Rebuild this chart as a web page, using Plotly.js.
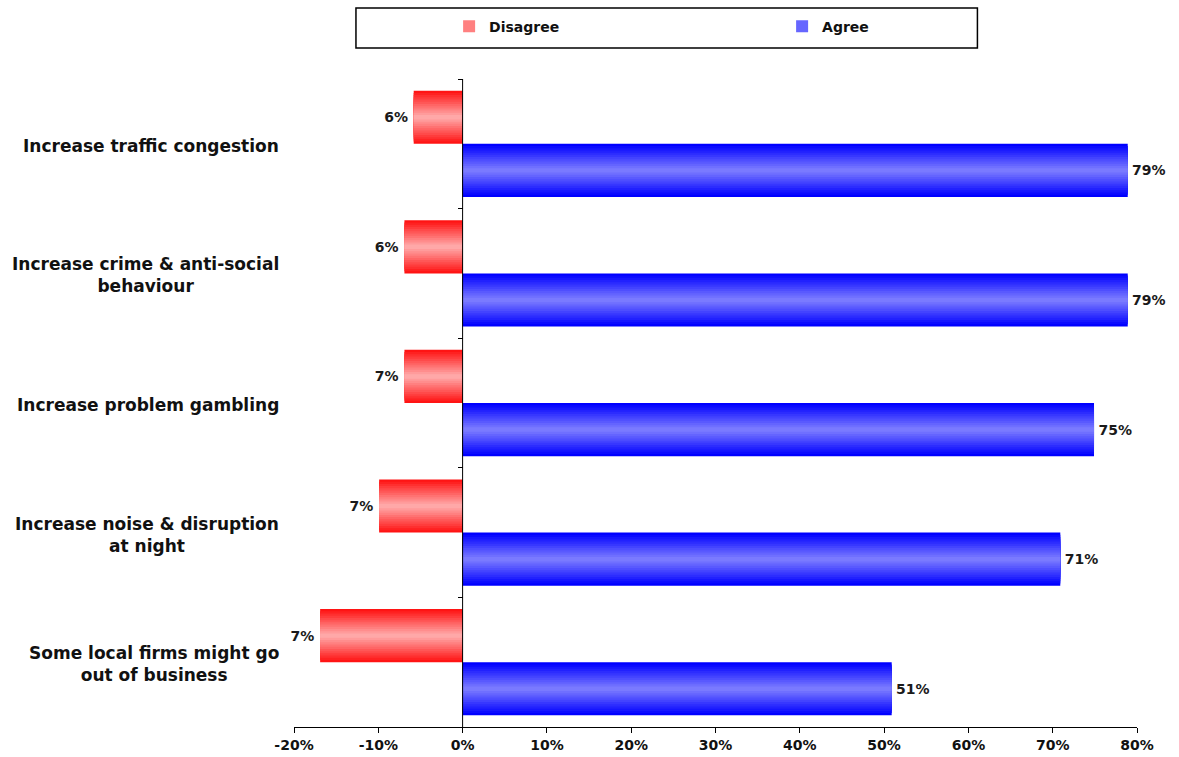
<!DOCTYPE html>
<html>
<head>
<meta charset="utf-8">
<script src="https://cdn.plot.ly/plotly-3.0.1.min.js"></script>
<style>html,body{margin:0;padding:0;background:#fff;}#chart{width:1179px;height:757px;}</style>
</head>
<body>
<div id="chart"></div>
<script>
// ---- data ----
const categories = [
  "Increase traffic congestion",
  "Increase crime & anti-social<br>behaviour",
  "Increase problem gambling",
  "Increase noise & disruption<br>at night",
  "Some local firms might go<br>out of business"
];
const disagreeValues = [-5.8, -6.9, -6.9, -9.9, -16.9];
const disagreeLabels = ["6%", "6%", "7%", "7%", "7%"];
const agreeValues = [78.9, 78.9, 74.9, 70.9, 50.9];
const agreeLabels = ["79%", "79%", "75%", "71%", "51%"];
const xTickValues = [-20, -10, 0, 10, 20, 30, 40, 50, 60, 70, 80];
const xTickText = xTickValues.map(v => v + "%");

// ---- styling ----
const FONT = "DejaVu Sans, Verdana, sans-serif";
const N = 12;               // gradient layers
const BARW = 0.41;          // bar thickness in category units
function lerp(a, b, t) { return Math.round(a + (b - a) * t); }
function col(e, c, t) { return `rgb(${lerp(e[0], c[0], t)},${lerp(e[1], c[1], t)},${lerp(e[2], c[2], t)})`; }
const redEdge = [255, 20, 20], redCenter = [255, 168, 168];
const blueEdge = [0, 0, 255], blueCenter = [122, 122, 255];

const traces = [];
function addSeries(name, values, labels, edge, center, centerOffset, legendColor, tmpl) {
  for (let k = 0; k < N; k++) {
    const f = 1 - k / N;
    const w = BARW * f;
    const t = k / (N - 1);
    traces.push({
      type: "bar",
      orientation: "h",
      name: name,
      x: values,
      y: categories,
      width: w,
      offset: centerOffset - w / 2,
      marker: { color: col(edge, center, t), line: { width: 0 } },
      text: k === 0 ? labels : undefined,
      texttemplate: k === 0 ? tmpl : undefined,
      textposition: k === 0 ? "outside" : "none",
      textfont: { family: FONT, size: 14, color: "#1a1a1a", weight: "bold" },
      constraintext: "none",
      cliponaxis: false,
      showlegend: false,
      hoverinfo: "skip",
      legendgroup: name
    });
  }
  // legend-only entry
  traces.push({
    type: "bar", orientation: "h", name: name,
    x: [null], y: [categories[0]],
    marker: { color: legendColor },
    showlegend: true, legendgroup: name, hoverinfo: "skip"
  });
}
addSeries("Disagree", disagreeValues, disagreeLabels, redEdge, redCenter, -BARW / 2, "#ff8080", "%{text}\u2009");
addSeries("Agree", agreeValues, agreeLabels, blueEdge, blueCenter, BARW / 2, "#6666ff", "\u200a%{text}");

const annotations = categories.map(c => ({
  xref: "paper", yref: "y", x: -0.015, y: c,
  text: "<b>" + c + "</b>", showarrow: false,
  xanchor: "right", yanchor: "middle", align: "center", yshift: -2,
  font: { family: FONT, size: 17, color: "#111" }
}));

const layout = {
  width: 1179, height: 757,
  margin: { l: 294, r: 42, t: 78, b: 30 },
  paper_bgcolor: "#fff", plot_bgcolor: "#fff",
  barmode: "overlay",
  showlegend: true,
  legend: {
    orientation: "h", x: 0.184, xanchor: "left", y: 1.079, yanchor: "middle",
    font: { family: FONT, size: 14, color: "#111", weight: "bold" },
    bgcolor: "rgba(0,0,0,0)", borderwidth: 0,
    entrywidth: 288, entrywidthmode: "pixels", traceorder: "normal"
  },
  xaxis: {
    range: [-20, 80], tickmode: "array", tickvals: xTickValues, ticktext: xTickText,
    showgrid: false, zeroline: false,
    showline: true, linecolor: "#000", linewidth: 1,
    ticks: "outside", ticklen: 5, tickcolor: "#000",
    tickfont: { family: FONT, size: 14, color: "#111", weight: "bold" },
    fixedrange: true
  },
  yaxis: {
    type: "category", categoryarray: categories, categoryorder: "array",
    range: [4.5, -0.5],
    anchor: "free", position: 0.2,
    showgrid: false, zeroline: false,
    showline: false,
    ticks: "outside", ticklen: 5, tickcolor: "#000", tickson: "boundaries",
    showticklabels: false, fixedrange: true
  },
  shapes: [
    {
      type: "rect", xref: "paper", yref: "paper",
      x0: 0.0735, x1: 0.8107, y0: 1.0478, y1: 1.1094,
      line: { color: "#000", width: 1.5 }, fillcolor: "rgba(0,0,0,0)"
    },
    {
      type: "line", xref: "x", yref: "paper", x0: 0, x1: 0, y0: 0, y1: 1,
      line: { color: "#000", width: 1 }, layer: "above"
    }
  ],
  annotations: annotations
};

Plotly.newPlot("chart", traces, layout, { displayModeBar: false, staticPlot: true });
</script>
</body>
</html>
